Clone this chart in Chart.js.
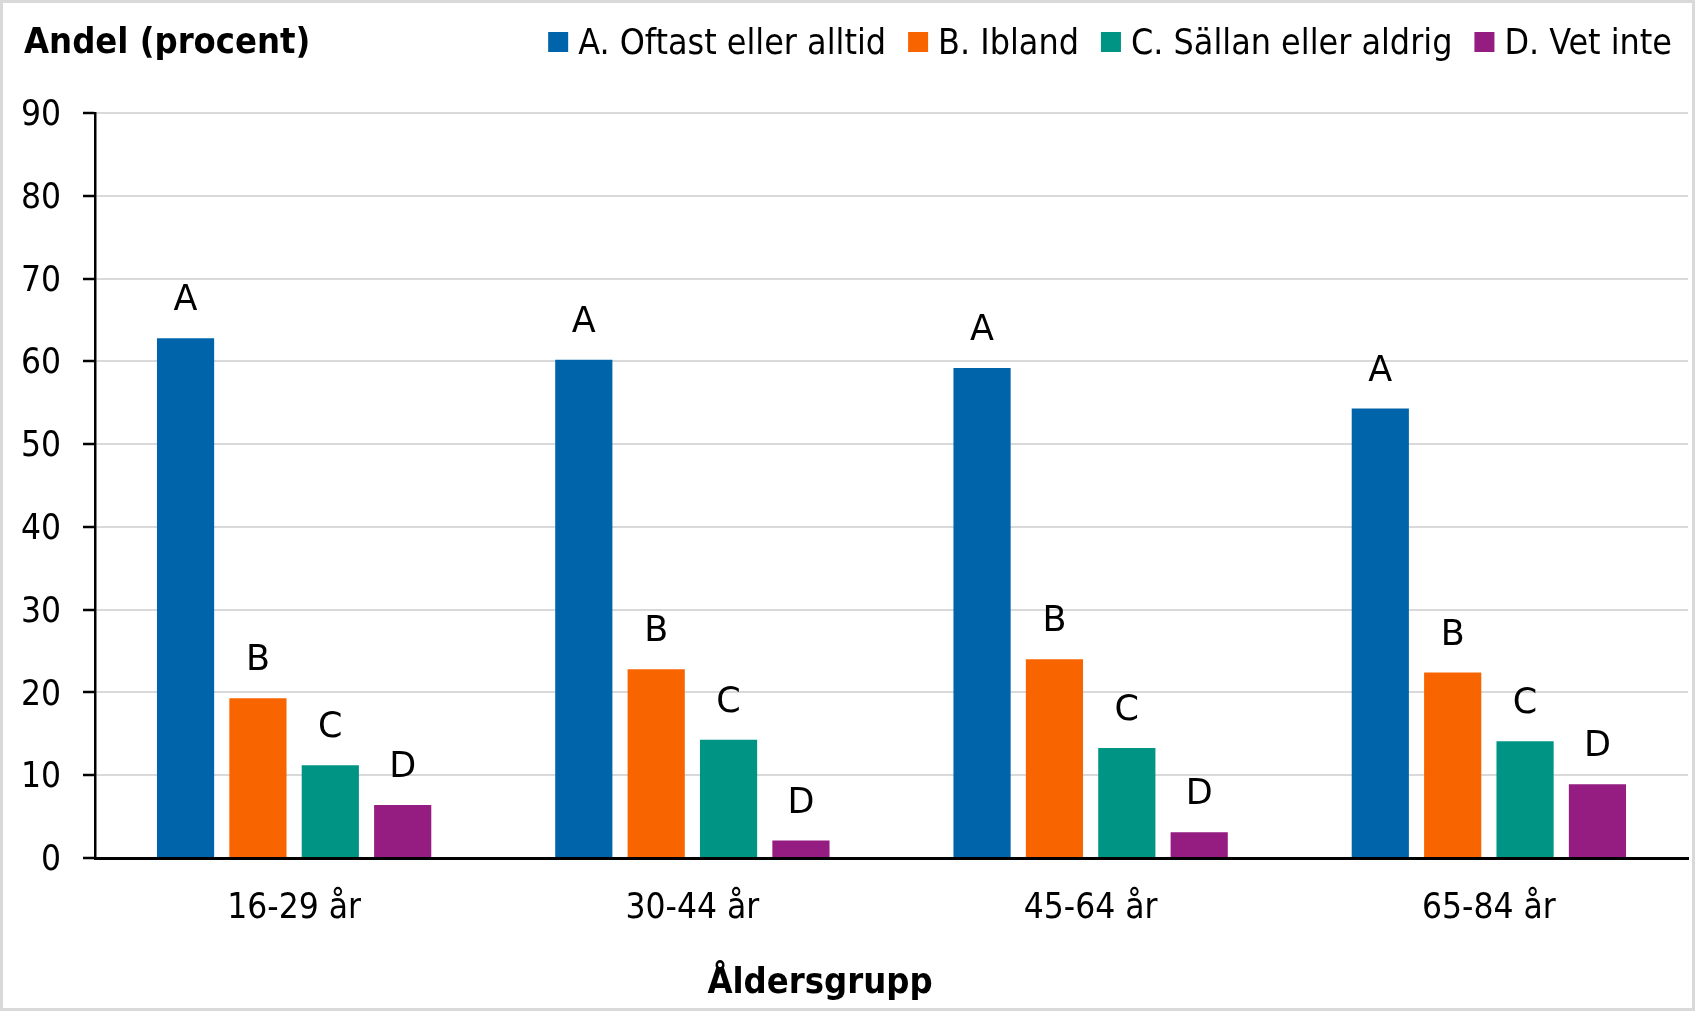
<!DOCTYPE html>
<html>
<head>
<meta charset="utf-8">
<script src="https://cdn.jsdelivr.net/npm/chart.js@4.4.0/dist/chart.umd.min.js"></script>
<style>
  html, body { margin: 0; padding: 0; background: #fff; }
  #wrap { width: 1695px; height: 1011px; position: relative; }
</style>
</head>
<body>
<div id="wrap"><canvas id="chart" width="1695" height="1011"></canvas></div>
<script>
// Data
const categories = ['16-29 år', '30-44 år', '45-64 år', '65-84 år'];
const seriesNames = ['A. Oftast eller alltid', 'B. Ibland', 'C. Sällan eller aldrig', 'D. Vet inte'];
const seriesLetters = ['A', 'B', 'C', 'D'];
const valuesA = [62.8, 60.2, 59.2, 54.3];
const valuesB = [19.3, 22.8, 24.0, 22.4];
const valuesC = [11.2, 14.3, 13.3, 14.1];
const valuesD = [6.4, 2.1, 3.1, 8.9];
const yTicks = [0, 10, 20, 30, 40, 50, 60, 70, 80, 90];
const yTitle = 'Andel (procent)';
const xTitle = 'Åldersgrupp';

const colors = ['#0064AA', '#F86400', '#009485', '#951C80'];
const FONT = '"DejaVu Sans Condensed", "DejaVu Sans", Verdana, sans-serif';
const LETTER_FONT = '"DejaVu Sans", Verdana, sans-serif';

// Bokstäver ovanför staplarna, legend, rubriker och ram
const decorations = {
    id: 'decorations',
    afterDatasetsDraw(chart) {
        const ctx = chart.ctx;
        ctx.save();
        ctx.fillStyle = '#000';
        ctx.font = `35px ${LETTER_FONT}`;
        ctx.textAlign = 'center';
        ctx.textBaseline = 'alphabetic';
        chart.data.datasets.forEach((ds, i) => {
            chart.getDatasetMeta(i).data.forEach(bar => {
                ctx.fillText(seriesLetters[i], bar.x, bar.y - 28);
            });
        });
        ctx.restore();
    },
    afterDraw(chart) {
        const ctx = chart.ctx;
        ctx.save();

        // Legend, högerjusterad
        ctx.font = `35.5px ${FONT}`;
        ctx.textBaseline = 'middle';
        ctx.textAlign = 'left';
        const box = 20, gap = 10, spacing = 22, legendY = 42;
        let x = 1672;
        for (let i = chart.data.datasets.length - 1; i >= 0; i--) {
            const ds = chart.data.datasets[i];
            const w = ctx.measureText(ds.label).width;
            x -= w;
            ctx.fillStyle = '#000';
            ctx.fillText(ds.label, x, legendY + 3);
            x -= gap + box;
            ctx.fillStyle = ds.backgroundColor;
            ctx.fillRect(x, legendY - box / 2, box, box);
            x -= spacing;
        }

        // Axelrubriker
        ctx.fillStyle = '#000';
        ctx.font = `bold 36px ${FONT}`;
        ctx.textAlign = 'left';
        ctx.fillText(yTitle, 24, 44);
        ctx.textAlign = 'center';
        ctx.fillText(xTitle, 820, 984);

        // Ram
        ctx.strokeStyle = '#d9d9d9';
        ctx.lineWidth = 3;
        ctx.strokeRect(1.5, 1.5, chart.width - 3, chart.height - 3);
        ctx.restore();
    }
};

const datasets = [valuesA, valuesB, valuesC, valuesD].map((vals, i) => ({
    label: seriesNames[i],
    data: vals,
    backgroundColor: colors[i],
    borderWidth: 0,
    categoryPercentage: 0.727,
    barPercentage: 0.79
}));

new Chart(document.getElementById('chart'), {
    type: 'bar',
    data: {
        labels: categories,
        datasets: datasets
    },
    options: {
        responsive: false,
        devicePixelRatio: 1,
        animation: false,
        layout: {
            padding: { top: 113, right: 7, left: 0, bottom: 0 }
        },
        plugins: {
            legend: { display: false },
            tooltip: { enabled: false }
        },
        scales: {
            x: {
                grid: { display: false, drawTicks: false },
                border: { display: true, color: '#000', width: 3 },
                ticks: {
                    font: { family: FONT, size: 35 },
                    color: '#000',
                    padding: 30
                },
                afterFit(scale) { scale.height = 153; }
            },
            y: {
                min: 0,
                max: 90,
                afterBuildTicks(scale) {
                    scale.ticks = yTicks.map(v => ({ value: v }));
                },
                grid: {
                    color: '#d9d9d9',
                    lineWidth: 2,
                    tickLength: 12,
                    tickColor: '#000',
                    tickWidth: 2.5
                },
                border: { color: '#000', width: 2.5 },
                ticks: {
                    font: { family: FONT, size: 35 },
                    color: '#000',
                    padding: 22,
                    labelOffset: 3
                },
                afterFit(scale) { scale.width = 95; }
            }
        }
    },
    plugins: [decorations]
});
</script>
</body>
</html>
